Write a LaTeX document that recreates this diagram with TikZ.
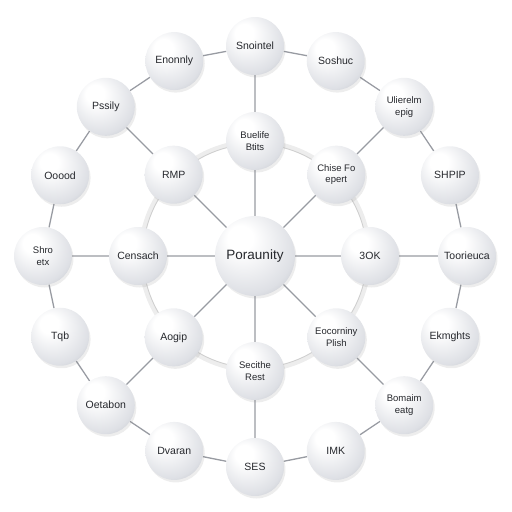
\documentclass[tikz,border=0pt]{standalone}
\usepackage{fontspec}
\setmainfont{Liberation Sans}
\usetikzlibrary{shadows,backgrounds}
\definecolor{sphlight}{RGB}{222,224,229}
\definecolor{sphmid}{RGB}{172,176,184}
\definecolor{sphdark}{RGB}{126,130,140}
\definecolor{linkgray}{RGB}{152,155,162}
\definecolor{txtgray}{RGB}{38,40,45}
\pgfdeclareradialshading{pearl}{\pgfpoint{-11bp}{13bp}}{color(0bp)=(white); color(8bp)=(white); color(29bp)=(sphlight); color(43bp)=(sphmid); color(50bp)=(sphdark)}
\tikzset{
	ball/.style={circle, minimum size=58pt, inner sep=0pt, shading=pearl, text=txtgray, align=center,
		font=\fontsize{10.5}{12}\selectfont, drop shadow={opacity=0.14, shadow xshift=1.5pt, shadow yshift=-2.5pt}},
	twoline/.style={font=\fontsize{9.5}{11.5}\selectfont},
	hub/.style={ball, minimum size=80pt, font=\fontsize{13.5}{15}\selectfont},
	link/.style={draw=linkgray, line width=1.3pt},
}
\begin{document}
\begin{tikzpicture}[x=1pt, y=1pt, line join=round, line cap=round]
				\useasboundingbox (-255,-256) rectangle (257,256);
				\path
				(0,0) node[hub] (P) {Poraunity}
				(90:115) node[ball,twoline] (i1) {Buelife\\Btits}
				(135:115) node[ball] (i2) {RMP}
				(180:117) node[ball] (i3) {Censach}
				(225:115) node[ball] (i4) {Aogip}
				(270:115) node[ball,twoline] (i5) {Secithe\\Rest}
				(315:115) node[ball,twoline] (i6) {Eocorniny\\Plish}
				(0:115) node[ball] (i7) {3OK}
				(45:115) node[ball,twoline] (i8) {Chise Fo\\epert}
				;
				\path
				(90:210) node[ball] (o1) {Snointel}
				(112.5:211) node[ball] (o2) {Enonnly}
				(135:211) node[ball] (o3) {Pssily}
				(157.5:211) node[ball] (o4) {Ooood}
				(180:212) node[ball,twoline] (o5) {Shro\\etx}
				(202.5:211) node[ball] (o6) {Tqb}
				(225:211) node[ball] (o7) {Oetabon}
				(247.5:211) node[ball] (o8) {Dvaran}
				(270:211) node[ball] (o9) {SES}
				(292.5:211) node[ball] (o10) {IMK}
				(315:211) node[ball,twoline] (o11) {Bomaim\\eatg}
				(337.5:211) node[ball] (o12) {Ekmghts}
				(0:212) node[ball] (o13) {Toorieuca}
				(22.5:211) node[ball] (o14) {SHPIP}
				(45:211) node[ball,twoline] (o15) {Ulierelm\\epig}
				(67.5:211) node[ball] (o16) {Soshuc}
				;
				\begin{scope}[on background layer]
				\draw[line width=5pt, gray!14] (P.center) circle (114);
				\draw[line width=0.8pt, gray!38] (P.center) circle (112);
				\draw[link] (P)--(i1) (P)--(i2) (P)--(i3) (P)--(i4) (P)--(i5) (P)--(i6) (P)--(i7) (P)--(i8);
				\draw[link] (i1)--(o1) (i2)--(o3) (i3)--(o5) (i4)--(o7) (i5)--(o9) (i6)--(o11) (i7)--(o13) (i8)--(o15);
				\draw[link] (o1)--(o2)--(o3)--(o4)--(o5)--(o6)--(o7)--(o8)--(o9)--(o10)--(o11)--(o12)--(o13)--(o14)--(o15)--(o16)--(o1);
				\end{scope}
			\end{tikzpicture}
\end{document}
